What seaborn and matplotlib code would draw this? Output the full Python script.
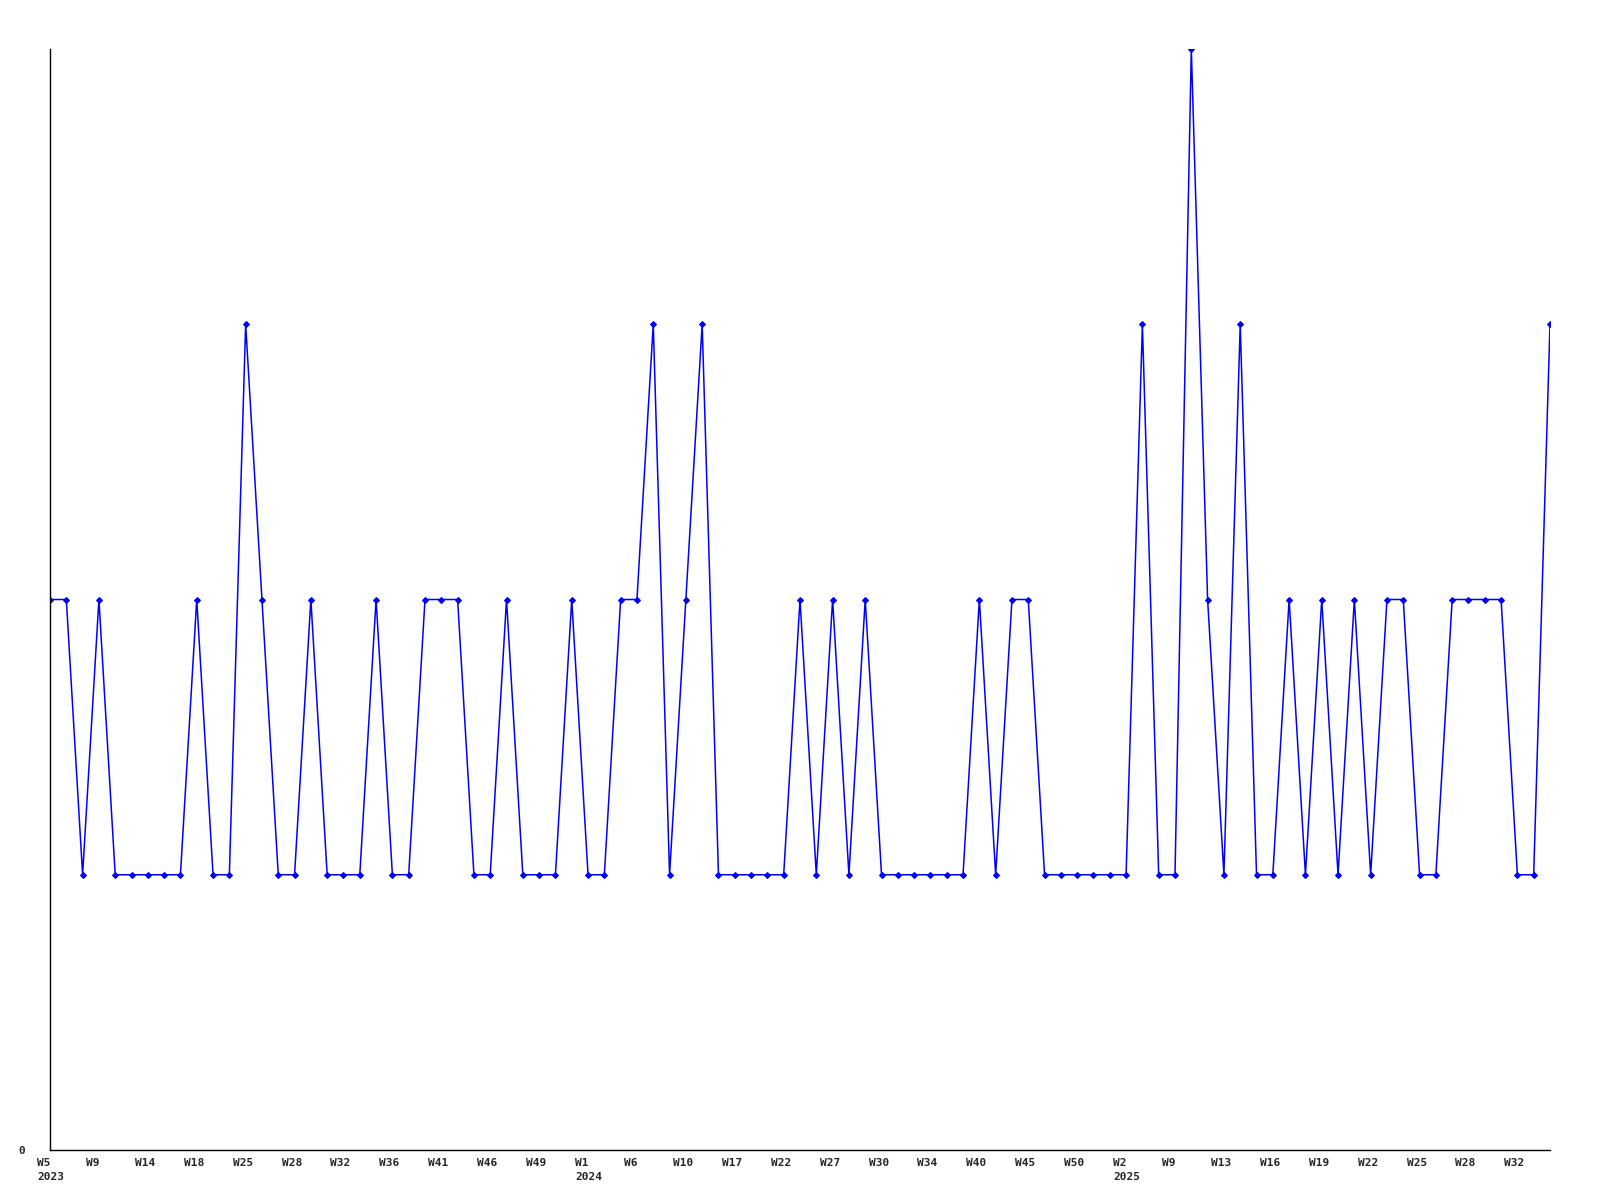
import numpy as np
import pandas as pd
import matplotlib
matplotlib.use("Agg")
import matplotlib.pyplot as plt
import matplotlib.transforms as mtransforms
import seaborn as sns

# --- Data ---
values = [
    2, 2, 1, 2, 1, 1, 1, 1, 1, 2, 1, 1, 3, 2, 1, 1, 2, 1, 1, 1,
    2, 1, 1, 2, 2, 2, 1, 1, 2, 1, 1, 1, 2, 1, 1, 2, 2, 3, 1, 2,
    3, 1, 1, 1, 1, 1, 2, 1, 2, 1, 2, 1, 1, 1, 1, 1, 1, 2, 1, 2,
    2, 1, 1, 1, 1, 1, 1, 3, 1, 1, 4, 2, 1, 3, 1, 1, 2, 1, 2, 1,
    2, 1, 2, 2, 1, 1, 2, 2, 2, 2, 1, 1, 3,
]
week_labels = [
    "W5\n2023", "W9", "W14", "W18", "W25", "W28", "W32", "W36", "W41", "W46", "W49",
    "W1\n2024", "W6", "W10", "W17", "W22", "W27", "W30", "W34", "W40", "W45", "W50",
    "W2\n2025", "W9", "W13", "W16", "W19", "W22", "W25", "W28", "W32",
]
label_step = 3

df = pd.DataFrame({"idx": np.arange(len(values)), "value": values})

sns.set_style("white")
plt.rcParams["font.family"] = ["DejaVu Sans Mono", "DejaVu Sans"]

fig = plt.figure(figsize=(16, 12), dpi=100)
ax = fig.add_axes([50 / 1600, 1 - 1150 / 1200, 1500 / 1600, 1101 / 1200])

sns.lineplot(
    data=df, x="idx", y="value", ax=ax,
    color="#0000ff", linewidth=1.1,
    marker="D", markersize=3, markeredgewidth=0.8, markeredgecolor="#0000ff",
)

ax.set_xlim(0, len(values) - 1)
ax.set_ylim(0, 4)
ax.set_xlabel("")
ax.set_ylabel("")

# x labels every third point, left-aligned a little before the point
tick_pos = np.arange(0, len(values), label_step)[: len(week_labels)]
ax.set_xticks(tick_pos)
ax.set_xticklabels([])
trans = mtransforms.blended_transform_factory(ax.transData, ax.transAxes)
trans = trans + mtransforms.ScaledTranslation(-13 / 100, -8 / 100, fig.dpi_scale_trans)
for pos, lab in zip(tick_pos, week_labels):
    ax.text(pos, 0, lab, transform=trans, ha="left", va="top",
            fontsize=8, fontweight="bold", linespacing=1.45, clip_on=False)

ax.set_yticks([0])
ax.set_yticklabels(["0"], fontsize=8, fontweight="bold")
ax.tick_params(axis="both", length=0)
ax.tick_params(axis="y", pad=18)

for side in ["top", "right"]:
    ax.spines[side].set_visible(False)
for side in ["left", "bottom"]:
    ax.spines[side].set_color("black")
    ax.spines[side].set_linewidth(1)
ax.grid(False)

fig.savefig("out.png", dpi=100)
